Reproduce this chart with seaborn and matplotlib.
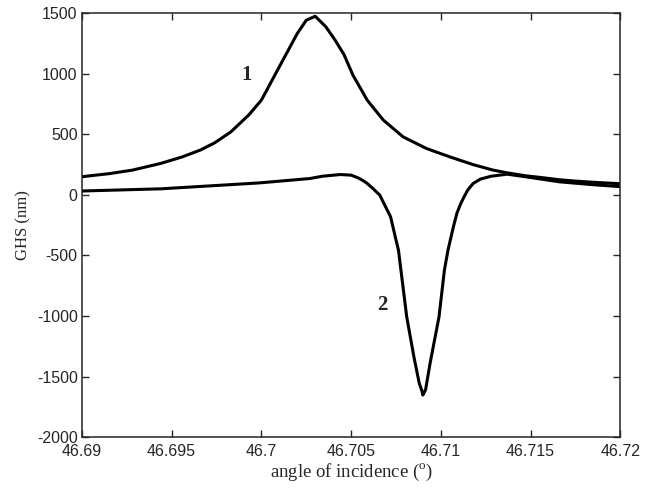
import numpy as np
import pandas as pd
import seaborn as sns
import matplotlib
matplotlib.use("Agg")
import matplotlib.pyplot as plt

# curve 1 : lorentzian-like peak
x1 = [46.6900, 46.6915, 46.6928, 46.6944, 46.6956, 46.6966, 46.6974, 46.6983,
      46.6993, 46.7000, 46.7003, 46.7009, 46.7014, 46.7020, 46.7025, 46.7030,
      46.7036, 46.7041, 46.7046, 46.7051, 46.7059, 46.7068, 46.7079, 46.7092,
      46.7105, 46.7118, 46.7129, 46.7137, 46.7147, 46.7155, 46.7166, 46.7174,
      46.7184, 46.7200]
y1 = [150, 175, 204, 260, 314, 370, 430, 520,
      660, 782, 864, 1030, 1167, 1332, 1442, 1475,
      1387, 1280, 1160, 990, 782, 617, 479, 383,
      314, 250, 205, 182, 158, 145, 125, 115,
      105, 92]

# curve 2 : dispersive dip
x2 = [46.6900, 46.6944, 46.6999, 46.7027, 46.7034, 46.7044, 46.7050, 46.7054,
      46.7057, 46.7059, 46.7062, 46.7066, 46.7072, 46.70755, 46.70764, 46.7081,
      46.7085, 46.7088, 46.70895, 46.7090, 46.70915, 46.7094, 46.7099, 46.7102,
      46.7104, 46.7107, 46.7109, 46.7111, 46.7113, 46.7115, 46.7118, 46.7122,
      46.7128, 46.7137, 46.7147, 46.7166, 46.7184, 46.7200]
y2 = [32, 50, 99, 135, 154, 168, 163, 140,
      115, 94, 55, -2, -181, -401, -456, -1007,
      -1337, -1557, -1620, -1653, -1610, -1392, -1007, -621,
      -456, -264, -150, -75, -15, 40, 94, 130,
      154, 171, 150, 108, 85, 68]

xticks = [46.69, 46.695, 46.70, 46.705, 46.71, 46.715, 46.72]
xtick_labels = ["46.69", "46.695", "46.7", "46.705", "46.71", "46.715", "46.72"]
yticks = [-2000, -1500, -1000, -500, 0, 500, 1000, 1500]
ytick_labels = ["-2000", "-1500", "-1000", "-500", "0", "500", "1000", "1500"]

sns.set_style("ticks")
plt.rcParams["font.family"] = ["Liberation Sans", "DejaVu Sans"]
plt.rcParams["mathtext.fontset"] = "custom"
plt.rcParams["mathtext.rm"] = "Liberation Serif"

df1 = pd.DataFrame({"x": x1, "y": y1})
df2 = pd.DataFrame({"x": x2, "y": y2})

fig = plt.figure(figsize=(6.55, 4.9), dpi=100)
ax = fig.add_axes([0.125, 0.108, 0.822, 0.865])

sns.lineplot(data=df1, x="x", y="y", color="black", linewidth=2.2, ax=ax, sort=False)
sns.lineplot(data=df2, x="x", y="y", color="black", linewidth=2.2, ax=ax, sort=False)

ax.set_xlim(46.69, 46.72)
ax.set_ylim(-2000, 1500)
ax.set_xticks(xticks)
ax.set_xticklabels(xtick_labels, fontsize=11.5)
ax.set_yticks(yticks)
ax.set_yticklabels(ytick_labels, fontsize=11.5)
ax.tick_params(direction="in", length=5, width=1, top=True, right=True)
ax.tick_params(axis="x", pad=5)
ax.tick_params(axis="y", pad=3)
for s in ax.spines.values():
    s.set_visible(True)
    s.set_linewidth(1.1)

ax.set_xlabel(r"angle of incidence ($^{\rm o}$)", fontfamily="Liberation Serif", fontsize=13.5, labelpad=2)
ax.set_ylabel("GHS (nm)", fontfamily="Liberation Serif", fontsize=12, labelpad=4)

ax.text(46.69915, 990, "1", fontfamily="Liberation Serif", fontsize=15, fontweight="bold",
        ha="center", va="center")
ax.text(46.70673, -910, "2", fontfamily="Liberation Serif", fontsize=15, fontweight="bold",
        ha="center", va="center")

fig.savefig("out.png", dpi=100)
